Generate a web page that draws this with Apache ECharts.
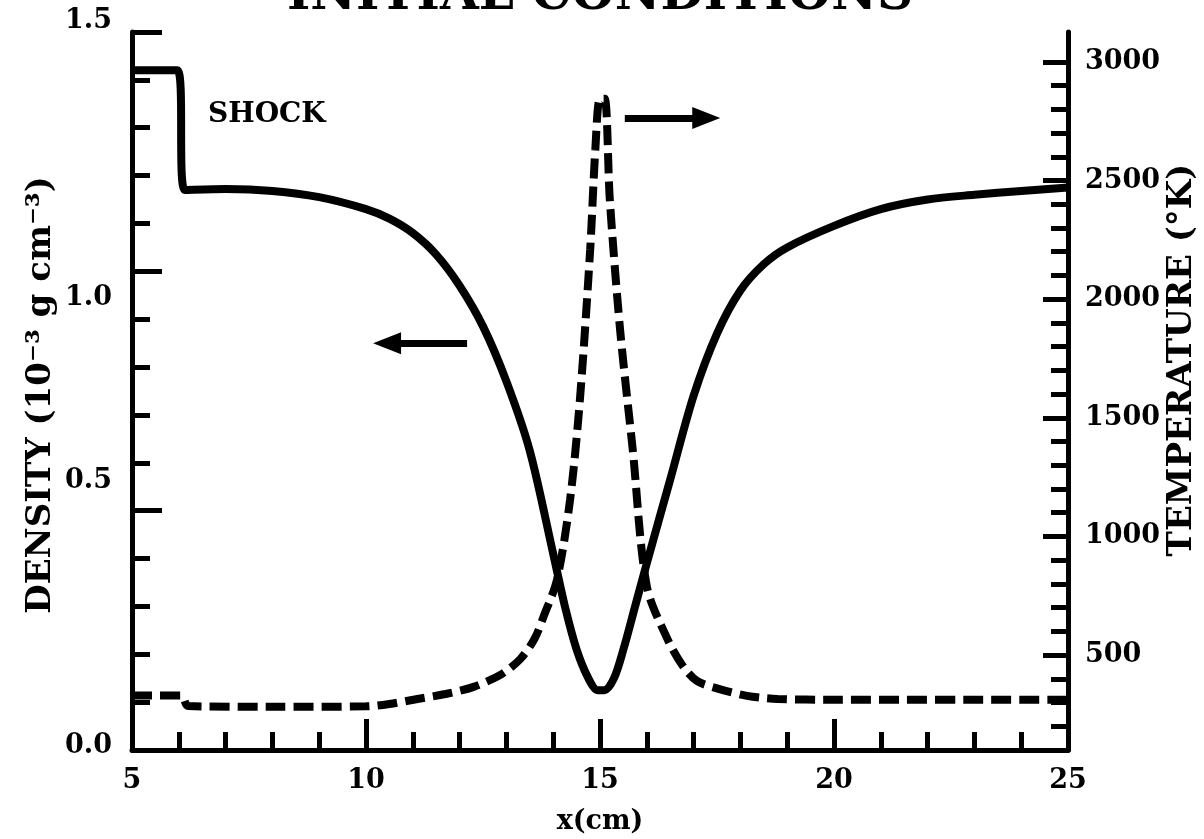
<!DOCTYPE html>
<html>
<head>
<meta charset="utf-8">
<title>Initial conditions</title>
<script src="https://cdn.jsdelivr.net/npm/echarts@6/dist/echarts.min.js"></script>
<style>
html, body { margin: 0; padding: 0; background: #fff; }
#chart { width: 1204px; height: 839px; }
</style>
</head>
<body>
<div id="chart"></div>
<script>
// density profile (solid), x in cm, density in 1e-3 g/cm3
var densityX = [5, 5.97, 6.13, 7, 8, 9, 10, 10.5, 11, 11.5, 12, 12.5, 13, 13.5, 14, 14.25, 14.5, 14.75, 14.95, 15.1, 15.3, 15.5, 15.75, 16, 16.5, 17, 17.5, 18, 18.5, 19, 20, 21, 22, 23, 24, 25];
var densityY = [1.42, 1.42, 1.17, 1.172, 1.168, 1.155, 1.13, 1.11, 1.08, 1.035, 0.97, 0.885, 0.77, 0.625, 0.41, 0.30, 0.21, 0.15, 0.125, 0.125, 0.15, 0.21, 0.30, 0.39, 0.565, 0.74, 0.87, 0.96, 1.015, 1.05, 1.095, 1.13, 1.15, 1.16, 1.168, 1.175];
// temperature profile (dashed), in K
var tempX = [5, 6.05, 6.2, 8, 10, 10.5, 11.1, 11.7, 12.3, 12.9, 13.3, 13.6, 13.8, 14.08, 14.36, 14.57, 14.79, 14.9, 15.0, 15.1, 15.21, 15.43, 15.7, 16.0, 16.45, 16.77, 17.07, 17.48, 18.14, 18.8, 20, 25];
var tempY = [330, 330, 285, 282, 284, 294, 315, 336, 366, 420, 484, 568, 665, 817, 1154, 1575, 2208, 2630, 2845, 2845, 2419, 1870, 1365, 790, 564, 454, 391, 361, 328, 315, 312, 312];
// axis ticks
var xTicks = [5, 10, 15, 20, 25];
var densityTicks = [0, 0.5, 1.0, 1.5];
var tempTicks = [500, 1000, 1500, 2000, 2500, 3000];

var font = 'DejaVu Serif';
var labelStyle = { fontFamily: font, fontWeight: 'bold', fontSize: 27, color: '#000' };
var nameStyle = { fontFamily: font, fontWeight: 'bold', fontSize: 34, color: '#000' };

function pairs(xs, ys) {
	var out = [];
	for (var i = 0; i < xs.length; i++) out.push([xs[i], ys[i]]);
	return out;
}

// minor ticks on the temperature axis every 100 K
var tempMinor = [];
for (var t = 200; t <= 3000; t += 100) tempMinor.push(t);

var chart = echarts.init(document.getElementById('chart'));

var option = {
	animation: false,
	backgroundColor: '#fff',
	grid: { left: 132, right: 136, top: 32, bottom: 89, outerBoundsMode: 'none', containLabel: false },
	graphic: [
		{
			type: 'text',
			style: { text: 'INITIAL CONDITIONS', x: 600, y: -4, textAlign: 'center', textVerticalAlign: 'middle',
				fontFamily: font, fontSize: 50, fontWeight: 'bold', fill: '#000' }
		},
		{
			type: 'text',
			style: { text: 'SHOCK', x: 208, y: 115, textVerticalAlign: 'middle',
				fontFamily: font, fontSize: 28, fontWeight: 'bold', fill: '#000' }
		}
	],
	xAxis: {
		type: 'value', min: 5, max: 25, interval: 5,
		name: 'x(cm)', nameLocation: 'middle', nameGap: 58, nameMoveOverlap: false,
		nameTextStyle: labelStyle,
		axisLine: { lineStyle: { color: '#000', width: 5 } },
		axisTick: { inside: true, length: 31, lineStyle: { color: '#000', width: 5 } },
		minorTick: { show: true, splitNumber: 5, length: 18, lineStyle: { color: '#000', width: 5 } },
		axisLabel: Object.assign({ margin: 17, customValues: xTicks }, labelStyle),
		splitLine: { show: false }
	},
	yAxis: [
		{
			type: 'value', min: 0, max: 1.5, interval: 0.5, position: 'left',
			name: 'DENSITY (10⁻³ g cm⁻³)', nameLocation: 'middle', nameRotate: 90, nameGap: 74, nameMoveOverlap: false,
			nameTextStyle: Object.assign({ padding: [0, 8, 0, 0] }, nameStyle),
			axisLine: { show: true, lineStyle: { color: '#000', width: 5 } },
			axisTick: { inside: true, length: 30, lineStyle: { color: '#000', width: 5 } },
			minorTick: { show: true, splitNumber: 5, length: 18, lineStyle: { color: '#000', width: 5 } },
			axisLabel: Object.assign({
				margin: 20,
				customValues: densityTicks,
				formatter: function (v) {
					var s = v.toFixed(1);
					var key = { '0.0': 'a', '0.5': 'b', '1.0': 'c', '1.5': 'd' }[s];
					return '{' + key + '|' + s + '}';
				},
				rich: {
					a: { padding: [0, 0, 8, 0] },
					b: { padding: [0, 0, 60, 0] },
					c: { padding: [54, 0, 0, 0] },
					d: { padding: [0, 0, 22, 0] }
				}
			}, labelStyle),
			splitLine: { show: false }
		},
		{
			type: 'value', min: 100, max: 3126, position: 'right',
			name: 'TEMPERATURE (°K)', nameLocation: 'middle', nameRotate: 90, nameGap: 97, nameMoveOverlap: false,
			nameTextStyle: Object.assign({ padding: [0, 0, 0, 62] }, nameStyle),
			axisLine: { show: true, lineStyle: { color: '#000', width: 5 } },
			axisTick: { inside: true, length: 25, customValues: tempTicks, lineStyle: { color: '#000', width: 5 } },
			axisLabel: Object.assign({
				margin: 17, customValues: tempTicks, padding: [0, 0, 16, 0],
				formatter: function (v) { return String(v); }
			}, labelStyle),
			splitLine: { show: false }
		},
		{
			// minor ticks only
			type: 'value', min: 100, max: 3126, position: 'right',
			axisLine: { show: false },
			axisTick: { show: true, inside: true, length: 17, customValues: tempMinor, lineStyle: { color: '#000', width: 5 } },
			axisLabel: { show: false },
			splitLine: { show: false }
		}
	],
	series: [
		{
			name: 'Density', type: 'line', yAxisIndex: 0,
			data: pairs(densityX, densityY),
			showSymbol: false, smooth: 0.3,
			lineStyle: { color: '#000', width: 8, join: 'round' },
			markLine: {
				silent: true, symbol: ['none', 'triangle'], symbolSize: [22, 28],
				label: { show: false },
				lineStyle: { color: '#000', width: 7, type: 'solid' },
				data: [[{ coord: [12.16, 0.85] }, { coord: [10.45, 0.85] }]]
			}
		},
		{
			name: 'Temperature', type: 'line', yAxisIndex: 1,
			data: pairs(tempX, tempY),
			showSymbol: false, smooth: 0.3,
			lineStyle: { color: '#000', width: 8, type: [20, 8], cap: 'butt' },
			markLine: {
				silent: true, symbol: ['none', 'triangle'], symbolSize: [22, 28],
				label: { show: false },
				lineStyle: { color: '#000', width: 7, type: 'solid' },
				data: [[{ coord: [15.53, 2764] }, { coord: [17.27, 2764] }]]
			}
		}
	]
};

chart.setOption(option);
</script>
</body>
</html>
